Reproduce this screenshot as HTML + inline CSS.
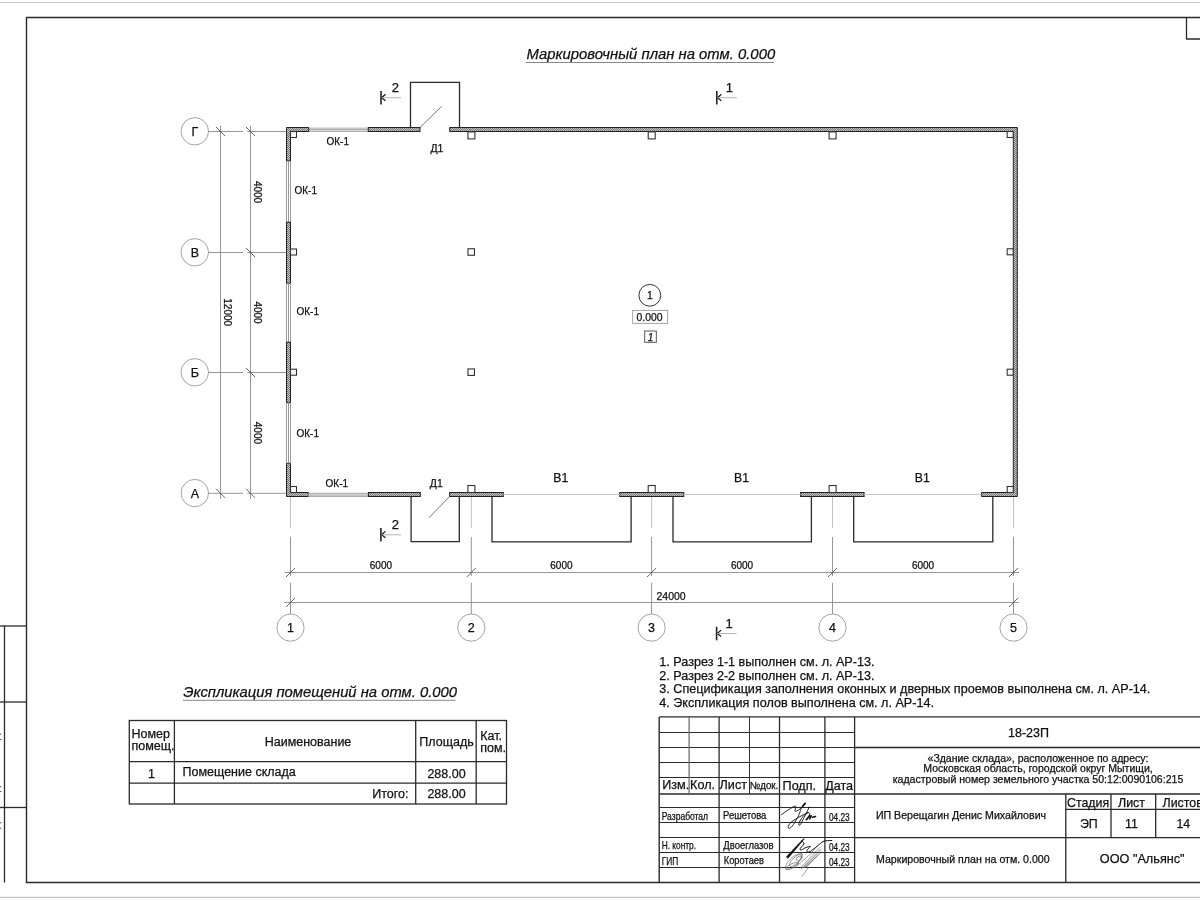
<!DOCTYPE html>
<html><head><meta charset="utf-8"><style>
html,body{margin:0;padding:0;background:#fff;width:1200px;height:900px;overflow:hidden}
svg{display:block;font-family:"Liberation Sans", sans-serif;will-change:transform}
text{stroke:#111;stroke-width:0.25px}
</style></head><body>
<svg width="1200" height="900" viewBox="0 0 1200 900">
<defs>
<pattern id="hatch" width="2" height="2" patternUnits="userSpaceOnUse">
<rect width="2" height="2" fill="#c4c4c4"/><rect width="1" height="1" fill="#777"/><rect x="1" y="1" width="1" height="1" fill="#777"/>
</pattern>
</defs>
<rect width="1200" height="900" fill="#fff"/>
<line x1="0" y1="2.5" x2="1200" y2="2.5" stroke="#c8c8c8" stroke-width="1.2" />
<line x1="0" y1="897.3" x2="1200" y2="897.3" stroke="#c8c8c8" stroke-width="1.2" />
<path d="M1200 17.5 H26.5 V882.5 H1200" fill="none" stroke="#2a2a2a" stroke-width="1.4"/>
<path d="M1200 39 H1186.5 V17.5" fill="none" stroke="#2a2a2a" stroke-width="1.3"/>
<line x1="4.5" y1="626" x2="4.5" y2="882.5" stroke="#2a2a2a" stroke-width="1.3" />
<line x1="0" y1="626" x2="26.5" y2="626" stroke="#2a2a2a" stroke-width="1.3" />
<line x1="0" y1="702" x2="26.5" y2="702" stroke="#2a2a2a" stroke-width="1.3" />
<line x1="0" y1="807.5" x2="26.5" y2="807.5" stroke="#2a2a2a" stroke-width="1.3" />
<rect x="0" y="733.7" width="1.3" height="1" stroke="none" stroke-width="0" fill="#444" />
<rect x="0" y="738.9" width="1.3" height="1" stroke="none" stroke-width="0" fill="#444" />
<rect x="0" y="786.2" width="1.3" height="1" stroke="none" stroke-width="0" fill="#444" />
<rect x="0" y="791.1" width="1.3" height="1" stroke="none" stroke-width="0" fill="#444" />
<rect x="0" y="822.3" width="1.3" height="1" stroke="none" stroke-width="0" fill="#444" />
<rect x="0" y="827.8" width="1.3" height="1" stroke="none" stroke-width="0" fill="#444" />
<text x="526.5" y="59.3" font-size="14.85" text-anchor="start" fill="#111"  style="font-style:italic">Маркировочный план на отм. 0.000</text>
<line x1="526" y1="62.5" x2="774" y2="62.5" stroke="#888" stroke-width="1" />
<rect x="308.7" y="127.5" width="59.60000000000002" height="1.3" stroke="none" stroke-width="0" fill="#c8c8c8" />
<line x1="308.7" y1="129.3" x2="368.3" y2="129.3" stroke="#999" stroke-width="1" />
<line x1="308.7" y1="131.2" x2="368.3" y2="131.2" stroke="#888" stroke-width="1" />
<rect x="368.3" y="127.5" width="51.69999999999999" height="4.0" stroke="#222" stroke-width="1" fill="url(#hatch)" />
<path d="M286.5 127.5 L308.7 127.5 L308.7 131.5 L290.5 131.5 L290.5 161 L286.5 161 Z" fill="url(#hatch)" stroke="#222" stroke-width="1" stroke-linejoin="miter"/>
<path d="M449.7 127.5 L1017.3 127.5 L1017.3 496.5 L981.5 496.5 L981.5 492.5 L1013.3 492.5 L1013.3 131.5 L449.7 131.5 Z" fill="url(#hatch)" stroke="#222" stroke-width="1" stroke-linejoin="miter"/>
<path d="M286.5 463.3 L290.5 463.3 L290.5 492.5 L308.4 492.5 L308.4 496.5 L286.5 496.5 Z" fill="url(#hatch)" stroke="#222" stroke-width="1" stroke-linejoin="miter"/>
<line x1="308.4" y1="493.3" x2="368.4" y2="493.3" stroke="#999" stroke-width="1" />
<rect x="308.4" y="493.8" width="60.0" height="2.2" stroke="none" stroke-width="0" fill="#cfcfcf" />
<line x1="308.4" y1="496.3" x2="368.4" y2="496.3" stroke="#999" stroke-width="1" />
<rect x="368.4" y="492.5" width="51.900000000000034" height="4.0" stroke="#222" stroke-width="1" fill="url(#hatch)" />
<rect x="449.6" y="492.5" width="53.69999999999999" height="4.0" stroke="#222" stroke-width="1" fill="url(#hatch)" />
<rect x="619.8" y="492.5" width="64.0" height="4.0" stroke="#222" stroke-width="1" fill="url(#hatch)" />
<rect x="800.6" y="492.5" width="63.5" height="4.0" stroke="#222" stroke-width="1" fill="url(#hatch)" />
<line x1="503.3" y1="494.5" x2="619.8" y2="494.5" stroke="#c8c8c8" stroke-width="1" />
<line x1="683.8" y1="494.5" x2="800.6" y2="494.5" stroke="#c8c8c8" stroke-width="1" />
<line x1="864.1" y1="494.5" x2="981.5" y2="494.5" stroke="#c8c8c8" stroke-width="1" />
<line x1="286.5" y1="161" x2="286.5" y2="222.2" stroke="#999" stroke-width="1" />
<line x1="288.5" y1="161" x2="288.5" y2="222.2" stroke="#999" stroke-width="1" />
<line x1="290.5" y1="161" x2="290.5" y2="222.2" stroke="#999" stroke-width="1" />
<rect x="286.5" y="222.2" width="4.0" height="61.10000000000002" stroke="#222" stroke-width="1" fill="url(#hatch)" />
<line x1="286.5" y1="283.3" x2="286.5" y2="342.2" stroke="#999" stroke-width="1" />
<line x1="288.5" y1="283.3" x2="288.5" y2="342.2" stroke="#999" stroke-width="1" />
<line x1="290.5" y1="283.3" x2="290.5" y2="342.2" stroke="#999" stroke-width="1" />
<rect x="286.5" y="342.2" width="4.0" height="60.5" stroke="#222" stroke-width="1" fill="url(#hatch)" />
<line x1="286.5" y1="402.7" x2="286.5" y2="463.3" stroke="#999" stroke-width="1" />
<line x1="288.5" y1="402.7" x2="288.5" y2="463.3" stroke="#999" stroke-width="1" />
<line x1="290.5" y1="402.7" x2="290.5" y2="463.3" stroke="#999" stroke-width="1" />
<rect x="467.90000000000003" y="131.9" width="7" height="7" stroke="#333" stroke-width="1.1" fill="#fff" />
<rect x="467.90000000000003" y="485.5" width="7" height="7" stroke="#333" stroke-width="1.1" fill="#fff" />
<rect x="648.2" y="131.9" width="7" height="7" stroke="#333" stroke-width="1.1" fill="#fff" />
<rect x="648.2" y="485.5" width="7" height="7" stroke="#333" stroke-width="1.1" fill="#fff" />
<rect x="829.1" y="131.9" width="7" height="7" stroke="#333" stroke-width="1.1" fill="#fff" />
<rect x="829.1" y="485.5" width="7" height="7" stroke="#333" stroke-width="1.1" fill="#fff" />
<rect x="290.5" y="131.5" width="6" height="6" stroke="#333" stroke-width="1.1" fill="#fff" />
<rect x="290.5" y="249.0" width="6" height="6" stroke="#333" stroke-width="1.1" fill="#fff" />
<rect x="290.5" y="369.2" width="6" height="6" stroke="#333" stroke-width="1.1" fill="#fff" />
<rect x="290.5" y="486.5" width="6" height="6" stroke="#333" stroke-width="1.1" fill="#fff" />
<rect x="1007.2" y="131.5" width="6" height="6" stroke="#333" stroke-width="1.1" fill="#fff" />
<rect x="1007.2" y="248.8" width="6" height="6" stroke="#333" stroke-width="1.1" fill="#fff" />
<rect x="1007.2" y="369.2" width="6" height="6" stroke="#333" stroke-width="1.1" fill="#fff" />
<rect x="1007.2" y="486.5" width="6" height="6" stroke="#333" stroke-width="1.1" fill="#fff" />
<rect x="467.95" y="248.75" width="6.5" height="6.5" stroke="#333" stroke-width="1.1" fill="#fff" />
<rect x="467.95" y="368.95" width="6.5" height="6.5" stroke="#333" stroke-width="1.1" fill="#fff" />
<path d="M410.5 127.5 V82.3 H459.5 V127.5" fill="none" stroke="#2a2a2a" stroke-width="1.3"/>
<line x1="420" y1="127.5" x2="441.7" y2="106.3" stroke="#555" stroke-width="0.8" />
<path d="M411.1 496.5 V541.7 H459.3 V496.5" fill="none" stroke="#2a2a2a" stroke-width="1.3"/>
<line x1="449.6" y1="496.5" x2="428.9" y2="517.8" stroke="#555" stroke-width="0.8" />
<path d="M492 496.5 V541.8 H631.1 V496.5" fill="none" stroke="#2a2a2a" stroke-width="1.3"/>
<path d="M673 496.5 V541.8 H811.4 V496.5" fill="none" stroke="#2a2a2a" stroke-width="1.3"/>
<path d="M853.7 496.5 V541.8 H992.8 V496.5" fill="none" stroke="#2a2a2a" stroke-width="1.3"/>
<text x="326.5" y="145.4" font-size="10" text-anchor="start" fill="#111"  style="">ОК-1</text>
<text x="294.5" y="194.2" font-size="10" text-anchor="start" fill="#111"  style="">ОК-1</text>
<text x="296.5" y="314.5" font-size="10" text-anchor="start" fill="#111"  style="">ОК-1</text>
<text x="296.5" y="436.8" font-size="10" text-anchor="start" fill="#111"  style="">ОК-1</text>
<text x="325.6" y="486.7" font-size="10" text-anchor="start" fill="#111"  style="">ОК-1</text>
<text x="430.5" y="152" font-size="10.5" text-anchor="start" fill="#111"  style="">Д1</text>
<text x="429.8" y="487" font-size="10.5" text-anchor="start" fill="#111"  style="">Д1</text>
<text x="560.8" y="482.2" font-size="12.2" text-anchor="middle" fill="#111"  style="">В1</text>
<text x="741.5" y="482.2" font-size="12.2" text-anchor="middle" fill="#111"  style="">В1</text>
<text x="922.3" y="482.2" font-size="12.2" text-anchor="middle" fill="#111"  style="">В1</text>
<circle cx="649.8" cy="295.3" r="10.9" fill="none" stroke="#333" stroke-width="1"/>
<text x="649.8" y="299.4" font-size="10.5" text-anchor="middle" fill="#111"  style="">1</text>
<rect x="632.7" y="310.4" width="35" height="13" stroke="#999" stroke-width="0.9" fill="none" />
<text x="649.6" y="320.7" font-size="10.4" text-anchor="middle" fill="#111"  style="">0.000</text>
<rect x="644.7" y="331" width="11.6" height="11.3" stroke="#444" stroke-width="0.9" fill="none" />
<text x="650.5" y="340.5" font-size="10" text-anchor="middle" fill="#111"  style="font-style:italic">1</text>
<line x1="381" y1="91.0" x2="381" y2="104.5" stroke="#222" stroke-width="1.6" />
<path d="M385.5 94.3 L381.7 97.7 L385.5 100.7" fill="none" stroke="#111" stroke-width="1.2"/>
<line x1="381.5" y1="97.7" x2="401" y2="97.7" stroke="#aaa" stroke-width="0.9" />
<text x="391.8" y="91.7" font-size="13" text-anchor="start" fill="#111"  style="">2</text>
<line x1="380.9" y1="528.0999999999999" x2="380.9" y2="541.5999999999999" stroke="#222" stroke-width="1.6" />
<path d="M385.4 531.4 L381.59999999999997 534.8 L385.4 537.8" fill="none" stroke="#111" stroke-width="1.2"/>
<line x1="381.4" y1="534.8" x2="400.9" y2="534.8" stroke="#aaa" stroke-width="0.9" />
<text x="391.7" y="528.8" font-size="13" text-anchor="start" fill="#111"  style="">2</text>
<line x1="716.8" y1="91.0" x2="716.8" y2="104.5" stroke="#222" stroke-width="1.6" />
<path d="M721.3 94.3 L717.5 97.7 L721.3 100.7" fill="none" stroke="#111" stroke-width="1.2"/>
<line x1="717.3" y1="97.7" x2="736.8" y2="97.7" stroke="#aaa" stroke-width="0.9" />
<text x="725.8" y="91.7" font-size="13" text-anchor="start" fill="#111"  style="">1</text>
<line x1="716.6" y1="626.8" x2="716.6" y2="640.3" stroke="#222" stroke-width="1.6" />
<path d="M721.1 630.1 L717.3000000000001 633.5 L721.1 636.5" fill="none" stroke="#111" stroke-width="1.2"/>
<line x1="717.1" y1="633.5" x2="736.6" y2="633.5" stroke="#aaa" stroke-width="0.9" />
<text x="725.6" y="627.5" font-size="13" text-anchor="start" fill="#111"  style="">1</text>
<circle cx="290.5" cy="627.6" r="13.6" fill="none" stroke="#999" stroke-width="0.9"/>
<text x="290.5" y="632.2" font-size="12.5" text-anchor="middle" fill="#111"  style="">1</text>
<line x1="290.5" y1="497" x2="290.5" y2="528.3" stroke="#bbb" stroke-width="0.9" />
<line x1="290.5" y1="537" x2="290.5" y2="576" stroke="#8a8a8a" stroke-width="0.9" />
<line x1="290.5" y1="582.8" x2="290.5" y2="614" stroke="#8a8a8a" stroke-width="0.9" />
<circle cx="471.3" cy="627.6" r="13.6" fill="none" stroke="#999" stroke-width="0.9"/>
<text x="471.3" y="632.2" font-size="12.5" text-anchor="middle" fill="#111"  style="">2</text>
<line x1="471.3" y1="497" x2="471.3" y2="528.3" stroke="#bbb" stroke-width="0.9" />
<line x1="471.3" y1="537" x2="471.3" y2="576" stroke="#8a8a8a" stroke-width="0.9" />
<line x1="471.3" y1="582.8" x2="471.3" y2="614" stroke="#8a8a8a" stroke-width="0.9" />
<circle cx="651.6" cy="627.6" r="13.6" fill="none" stroke="#999" stroke-width="0.9"/>
<text x="651.6" y="632.2" font-size="12.5" text-anchor="middle" fill="#111"  style="">3</text>
<line x1="651.6" y1="497" x2="651.6" y2="528.3" stroke="#bbb" stroke-width="0.9" />
<line x1="651.6" y1="537" x2="651.6" y2="576" stroke="#8a8a8a" stroke-width="0.9" />
<line x1="651.6" y1="582.8" x2="651.6" y2="614" stroke="#8a8a8a" stroke-width="0.9" />
<circle cx="832.5" cy="627.6" r="13.6" fill="none" stroke="#999" stroke-width="0.9"/>
<text x="832.5" y="632.2" font-size="12.5" text-anchor="middle" fill="#111"  style="">4</text>
<line x1="832.5" y1="497" x2="832.5" y2="528.3" stroke="#bbb" stroke-width="0.9" />
<line x1="832.5" y1="537" x2="832.5" y2="576" stroke="#8a8a8a" stroke-width="0.9" />
<line x1="832.5" y1="582.8" x2="832.5" y2="614" stroke="#8a8a8a" stroke-width="0.9" />
<circle cx="1013.5" cy="627.6" r="13.6" fill="none" stroke="#999" stroke-width="0.9"/>
<text x="1013.5" y="632.2" font-size="12.5" text-anchor="middle" fill="#111"  style="">5</text>
<line x1="1013.5" y1="497" x2="1013.5" y2="528.3" stroke="#bbb" stroke-width="0.9" />
<line x1="1013.5" y1="537" x2="1013.5" y2="576" stroke="#8a8a8a" stroke-width="0.9" />
<line x1="1013.5" y1="582.8" x2="1013.5" y2="614" stroke="#8a8a8a" stroke-width="0.9" />
<line x1="284.4" y1="572.5" x2="1019" y2="572.5" stroke="#8a8a8a" stroke-width="0.9" />
<line x1="284.4" y1="602.5" x2="1019" y2="602.5" stroke="#8a8a8a" stroke-width="0.9" />
<line x1="286.0" y1="577.0" x2="295.0" y2="568.0" stroke="#555" stroke-width="0.9" />
<line x1="466.8" y1="577.0" x2="475.8" y2="568.0" stroke="#555" stroke-width="0.9" />
<line x1="647.1" y1="577.0" x2="656.1" y2="568.0" stroke="#555" stroke-width="0.9" />
<line x1="828.0" y1="577.0" x2="837.0" y2="568.0" stroke="#555" stroke-width="0.9" />
<line x1="1009.0" y1="577.0" x2="1018.0" y2="568.0" stroke="#555" stroke-width="0.9" />
<line x1="286.0" y1="607.0" x2="295.0" y2="598.0" stroke="#555" stroke-width="0.9" />
<line x1="1009.0" y1="607.0" x2="1018.0" y2="598.0" stroke="#555" stroke-width="0.9" />
<text x="380.9" y="568.9" font-size="10" text-anchor="middle" fill="#111"  style="">6000</text>
<text x="561.45" y="568.9" font-size="10" text-anchor="middle" fill="#111"  style="">6000</text>
<text x="742.05" y="568.9" font-size="10" text-anchor="middle" fill="#111"  style="">6000</text>
<text x="923.0" y="568.9" font-size="10" text-anchor="middle" fill="#111"  style="">6000</text>
<text x="656.5" y="599.5" font-size="10.5" text-anchor="start" fill="#111"  style="">24000</text>
<circle cx="194.8" cy="131.3" r="13.7" fill="none" stroke="#999" stroke-width="0.9"/>
<text x="194.8" y="136.0" font-size="12.5" text-anchor="middle" fill="#111"  style="">Г</text>
<line x1="208.25" y1="131.5" x2="243.1" y2="131.5" stroke="#8a8a8a" stroke-width="0.9" />
<line x1="247.3" y1="131.5" x2="286.5" y2="131.5" stroke="#8a8a8a" stroke-width="0.9" />
<circle cx="194.8" cy="252.3" r="13.7" fill="none" stroke="#999" stroke-width="0.9"/>
<text x="194.8" y="257.0" font-size="12.5" text-anchor="middle" fill="#111"  style="">В</text>
<line x1="208.25" y1="252.5" x2="243.1" y2="252.5" stroke="#8a8a8a" stroke-width="0.9" />
<line x1="247.3" y1="252.5" x2="286.5" y2="252.5" stroke="#8a8a8a" stroke-width="0.9" />
<circle cx="194.8" cy="372.3" r="13.7" fill="none" stroke="#999" stroke-width="0.9"/>
<text x="194.8" y="377.0" font-size="12.5" text-anchor="middle" fill="#111"  style="">Б</text>
<line x1="208.25" y1="372.5" x2="243.1" y2="372.5" stroke="#8a8a8a" stroke-width="0.9" />
<line x1="247.3" y1="372.5" x2="286.5" y2="372.5" stroke="#8a8a8a" stroke-width="0.9" />
<circle cx="194.8" cy="493.1" r="13.7" fill="none" stroke="#999" stroke-width="0.9"/>
<text x="194.8" y="497.8" font-size="12.5" text-anchor="middle" fill="#111"  style="">А</text>
<line x1="208.25" y1="493.3" x2="243.1" y2="493.3" stroke="#8a8a8a" stroke-width="0.9" />
<line x1="247.3" y1="493.3" x2="286.5" y2="493.3" stroke="#8a8a8a" stroke-width="0.9" />
<line x1="220.5" y1="125.8" x2="220.5" y2="498.8" stroke="#8a8a8a" stroke-width="0.9" />
<line x1="250.5" y1="125.8" x2="250.5" y2="498.8" stroke="#8a8a8a" stroke-width="0.9" />
<line x1="216.0" y1="127.0" x2="225.0" y2="136.0" stroke="#555" stroke-width="0.9" />
<line x1="216.0" y1="488.8" x2="225.0" y2="497.8" stroke="#555" stroke-width="0.9" />
<line x1="246.0" y1="127.0" x2="255.0" y2="136.0" stroke="#555" stroke-width="0.9" />
<line x1="246.0" y1="248.0" x2="255.0" y2="257.0" stroke="#555" stroke-width="0.9" />
<line x1="246.0" y1="368.0" x2="255.0" y2="377.0" stroke="#555" stroke-width="0.9" />
<line x1="246.0" y1="488.8" x2="255.0" y2="497.8" stroke="#555" stroke-width="0.9" />
<text x="0" y="0" font-size="10" text-anchor="middle" fill="#111" transform="translate(254.2 192.0) rotate(90)">4000</text>
<text x="0" y="0" font-size="10" text-anchor="middle" fill="#111" transform="translate(254.2 312.5) rotate(90)">4000</text>
<text x="0" y="0" font-size="10" text-anchor="middle" fill="#111" transform="translate(254.2 432.9) rotate(90)">4000</text>
<text x="0" y="0" font-size="10" text-anchor="middle" fill="#111" transform="translate(224.0 312.2) rotate(90)">12000</text>
<text x="659.3" y="666.2" font-size="12.6" text-anchor="start" fill="#111"  style="">1. Разрез 1-1 выполнен см. л. АР-13.</text>
<text x="659.3" y="679.7" font-size="12.6" text-anchor="start" fill="#111"  style="">2. Разрез 2-2 выполнен см. л. АР-13.</text>
<text x="659.3" y="693.2" font-size="12.6" text-anchor="start" fill="#111"  style="">3. Спецификация заполнения оконных и дверных проемов выполнена см. л. АР-14.</text>
<text x="659.3" y="706.7" font-size="12.6" text-anchor="start" fill="#111"  style="">4. Экспликация полов выполнена см. л. АР-14.</text>
<text x="183.3" y="696.7" font-size="14.8" text-anchor="start" fill="#111"  style="font-style:italic">Экспликация помещений на отм. 0.000</text>
<line x1="183" y1="700.3" x2="455.5" y2="700.3" stroke="#888" stroke-width="1" />
<rect x="129.3" y="720.5" width="377.2" height="83.5" stroke="#2a2a2a" stroke-width="1.3" fill="none" />
<line x1="129.3" y1="761.7" x2="506.5" y2="761.7" stroke="#2a2a2a" stroke-width="1.3" />
<line x1="129.3" y1="783.2" x2="506.5" y2="783.2" stroke="#2a2a2a" stroke-width="1.3" />
<line x1="174.4" y1="720.5" x2="174.4" y2="804" stroke="#2a2a2a" stroke-width="1.3" />
<line x1="415.7" y1="720.5" x2="415.7" y2="804" stroke="#2a2a2a" stroke-width="1.3" />
<line x1="476.2" y1="720.5" x2="476.2" y2="804" stroke="#2a2a2a" stroke-width="1.3" />
<text x="131.5" y="737.8" font-size="12.5" text-anchor="start" fill="#111"  style="">Номер</text>
<text x="131.5" y="750.2" font-size="12.5" text-anchor="start" fill="#111"  style="">помещ.</text>
<text x="308" y="745.7" font-size="12.5" text-anchor="middle" fill="#111"  style="">Наименование</text>
<text x="419.3" y="745.7" font-size="12.5" text-anchor="start" fill="#111"  style="">Площадь</text>
<text x="480.3" y="739.6" font-size="12.5" text-anchor="start" fill="#111"  style="">Кат.</text>
<text x="480.3" y="752.3" font-size="12.5" text-anchor="start" fill="#111"  style="">пом.</text>
<text x="151.5" y="777.7" font-size="12.5" text-anchor="middle" fill="#111"  style="">1</text>
<text x="182.5" y="775.6" font-size="12.5" text-anchor="start" fill="#111"  style="">Помещение склада</text>
<text x="446.5" y="777.7" font-size="12.5" text-anchor="middle" fill="#111"  style="">288.00</text>
<text x="408.5" y="798" font-size="12.5" text-anchor="end" fill="#111"  style="">Итого:</text>
<text x="446.5" y="798" font-size="12.5" text-anchor="middle" fill="#111"  style="">288.00</text>
<line x1="659.2" y1="716.9" x2="1200" y2="716.9" stroke="#2a2a2a" stroke-width="1.4" />
<line x1="659.2" y1="716.9" x2="659.2" y2="882.5" stroke="#2a2a2a" stroke-width="1.4" />
<line x1="659.2" y1="732.5" x2="854.6" y2="732.5" stroke="#2a2a2a" stroke-width="1.2" />
<line x1="659.2" y1="747.5" x2="854.6" y2="747.5" stroke="#2a2a2a" stroke-width="1.2" />
<line x1="659.2" y1="762.5" x2="854.6" y2="762.5" stroke="#2a2a2a" stroke-width="1.2" />
<line x1="659.2" y1="777.5" x2="854.6" y2="777.5" stroke="#2a2a2a" stroke-width="1.2" />
<line x1="659.2" y1="794.0" x2="854.6" y2="794.0" stroke="#2a2a2a" stroke-width="1.3" />
<line x1="659.2" y1="807.5" x2="854.6" y2="807.5" stroke="#2a2a2a" stroke-width="1.2" />
<line x1="659.2" y1="822.5" x2="854.6" y2="822.5" stroke="#2a2a2a" stroke-width="1.2" />
<line x1="659.2" y1="837.5" x2="854.6" y2="837.5" stroke="#2a2a2a" stroke-width="1.2" />
<line x1="659.2" y1="852.5" x2="854.6" y2="852.5" stroke="#2a2a2a" stroke-width="1.2" />
<line x1="659.2" y1="867.5" x2="854.6" y2="867.5" stroke="#2a2a2a" stroke-width="1.2" />
<line x1="719.1" y1="716.9" x2="719.1" y2="882.5" stroke="#2a2a2a" stroke-width="1.3" />
<line x1="779.5" y1="716.9" x2="779.5" y2="882.5" stroke="#2a2a2a" stroke-width="1.3" />
<line x1="824.9" y1="716.9" x2="824.9" y2="882.5" stroke="#2a2a2a" stroke-width="1.3" />
<line x1="854.6" y1="716.9" x2="854.6" y2="882.5" stroke="#2a2a2a" stroke-width="1.3" />
<line x1="689.1" y1="716.9" x2="689.1" y2="794.0" stroke="#666" stroke-width="1.2" />
<line x1="749.5" y1="716.9" x2="749.5" y2="794.0" stroke="#333" stroke-width="1.0" />
<line x1="854.6" y1="747.5" x2="1200" y2="747.5" stroke="#2a2a2a" stroke-width="1.3" />
<line x1="854.6" y1="794.0" x2="1200" y2="794.0" stroke="#2a2a2a" stroke-width="1.3" />
<line x1="854.6" y1="837.6" x2="1200" y2="837.6" stroke="#2a2a2a" stroke-width="1.3" />
<line x1="1065.8" y1="794" x2="1065.8" y2="882.5" stroke="#2a2a2a" stroke-width="1.3" />
<line x1="1111" y1="794" x2="1111" y2="837.6" stroke="#2a2a2a" stroke-width="1.3" />
<line x1="1155.7" y1="794" x2="1155.7" y2="837.6" stroke="#2a2a2a" stroke-width="1.3" />
<line x1="1065.8" y1="809.4" x2="1200" y2="809.4" stroke="#2a2a2a" stroke-width="1.3" />
<text x="662.3" y="789" font-size="12.6" text-anchor="start" fill="#111"  style="">Изм.</text>
<text x="690.1" y="789" font-size="12.6" text-anchor="start" fill="#111"  style="">Кол.</text>
<text x="719.6" y="789" font-size="12.6" text-anchor="start" fill="#111"  style="">Лист</text>
<text x="749.8" y="789" font-size="10.2" text-anchor="start" fill="#111" textLength="28.5" lengthAdjust="spacingAndGlyphs" style="">№док.</text>
<text x="782.6" y="789.6" font-size="12.6" text-anchor="start" fill="#111"  style="">Подп.</text>
<text x="825.2" y="789.6" font-size="12.6" text-anchor="start" fill="#111"  style="">Дата</text>
<text x="661.7" y="819.5" font-size="10.2" text-anchor="start" fill="#111" textLength="46.4" lengthAdjust="spacingAndGlyphs" style="">Разработал</text>
<text x="723" y="818.5" font-size="10.4" text-anchor="start" fill="#111" textLength="43.3" lengthAdjust="spacingAndGlyphs" style="">Решетова</text>
<text x="661.7" y="848.7" font-size="10.4" text-anchor="start" fill="#111" textLength="34.3" lengthAdjust="spacingAndGlyphs" style="">Н. контр.</text>
<text x="723.3" y="848.7" font-size="10.4" text-anchor="start" fill="#111" textLength="50.3" lengthAdjust="spacingAndGlyphs" style="">Двоеглазов</text>
<text x="661.7" y="864.5" font-size="10.6" text-anchor="start" fill="#111" textLength="16.5" lengthAdjust="spacingAndGlyphs" style="">ГИП</text>
<text x="723.8" y="864.1" font-size="10.4" text-anchor="start" fill="#111" textLength="40.1" lengthAdjust="spacingAndGlyphs" style="">Коротаев</text>
<text x="829" y="820.7" font-size="10.2" text-anchor="start" fill="#111" textLength="20.7" lengthAdjust="spacingAndGlyphs" style="">04.23</text>
<text x="829" y="850.6" font-size="10.2" text-anchor="start" fill="#111" textLength="20.7" lengthAdjust="spacingAndGlyphs" style="">04.23</text>
<text x="829" y="866" font-size="10.2" text-anchor="start" fill="#111" textLength="20.7" lengthAdjust="spacingAndGlyphs" style="">04.23</text>
<text x="1028.5" y="737" font-size="12.5" text-anchor="middle" fill="#111"  style="">18-23П</text>
<text x="1038" y="761.7" font-size="10.5" text-anchor="middle" fill="#111"  style="">«Здание склада», расположенное по адресу:</text>
<text x="1038" y="772.3" font-size="10.5" text-anchor="middle" fill="#111"  style="">Московская область, городской округ Мытищи,</text>
<text x="1038" y="783" font-size="10.55" text-anchor="middle" fill="#111"  style="">кадастровый номер земельного участка 50:12:0090106:215</text>
<text x="961" y="819.3" font-size="10.6" text-anchor="middle" fill="#111"  style="">ИП Верещагин Денис Михайлович</text>
<text x="962.8" y="863.4" font-size="10.6" text-anchor="middle" fill="#111"  style="">Маркировочный план на отм. 0.000</text>
<text x="1067" y="807.1" font-size="12.4" text-anchor="start" fill="#111"  style="">Стадия</text>
<text x="1118" y="807.1" font-size="12.4" text-anchor="start" fill="#111"  style="">Лист</text>
<text x="1162.5" y="807.1" font-size="12.4" text-anchor="start" fill="#111"  style="">Листов</text>
<text x="1088.8" y="828" font-size="12.4" text-anchor="middle" fill="#111"  style="">ЭП</text>
<text x="1131.5" y="828" font-size="12.4" text-anchor="middle" fill="#111"  style="">11</text>
<text x="1183.3" y="828" font-size="12.4" text-anchor="middle" fill="#111"  style="">14</text>
<text x="1142.2" y="862.5" font-size="12.7" text-anchor="middle" fill="#111"  style="">ООО "Альянс"</text>
<g fill="none" stroke="#111" stroke-linecap="round" stroke-linejoin="round">
<path d="M781.5 814.7 C785 812 789 809 794.7 806.1 C796.5 806 796 808 794.9 810.5 C794.5 812 796 811.8 800.5 808.6 C802 807 803.5 805 805.1 803.4" stroke-width="0.9"/>
<path d="M805.1 803.4 L802.6 806.5" stroke-width="1.8"/>
<path d="M801.3 808 C800 812 799 815 797.6 817.6 C795 822 792 828 789.2 828.4 C787.5 828.5 788 825.5 790 823.4 C792 821 796 819 798.8 817.2 C802 815.5 805 813.8 808 812.6" stroke-width="0.9"/>
<path d="M809.2 807 C808 810 806.5 813 803 819.7 C801.5 822.5 800.5 825 799.4 825.3 C798.4 825.5 798.9 822.5 799.9 821 C801.5 818 804 815 806.75 813 C808.5 812 810 812.5 809.7 814.7 C809.3 816.5 808 818 807.2 819.25" stroke-width="0.9"/>
<path d="M806.3 819.7 L809.7 815.5 M809.7 818.8 L811.3 815.9 M812.6 817.2 L815.5 816.5" stroke-width="1.6"/>
<path d="M788.07 858.23 L796.2 848.63 L804.22 838.95 L803.78 838.55 L795.0 847.57 L786.43 856.77 Z" fill="#111" stroke="#111" stroke-width="0.5"/>
<path d="M801.5 840.75 C803 842 804.5 843 804 844 C803 846 799.5 848 800 849.5 C801 851 803.5 848.5 806 847.5 C808 846.8 811 846 810.5 846.5 C808.5 848.5 805.5 850.5 807.5 852 C809 852.8 811 851 813 849.5 C817 846.5 820 843.5 823 841.5 C826 840.5 829 840.6 831.75 840.5" stroke-width="1"/>
<g stroke="#666" stroke-width="0.6">
<ellipse cx="794" cy="861.3" rx="11" ry="4" transform="rotate(-42 794 861.3)"/>
<ellipse cx="795.5" cy="860.5" rx="8" ry="3" transform="rotate(-45 795.5 860.5)"/>
<ellipse cx="799" cy="858.5" rx="3.2" ry="2" transform="rotate(-30 799 858.5)"/>
<ellipse cx="792" cy="866" rx="7" ry="2.2" transform="rotate(-25 792 866)"/>
<path d="M800 868.5 L819.5 847.5 M801.5 868.5 L820.5 849 M803 868 L821 850.5 M804.5 867.5 L822 852 M806 867 L818 855 M807 866.5 L815 858 M808 868 L802 876.5 M797 866 L812 852.5 M812 852 L817.5 846"/>
</g>
</g>
</svg>
</body></html>
